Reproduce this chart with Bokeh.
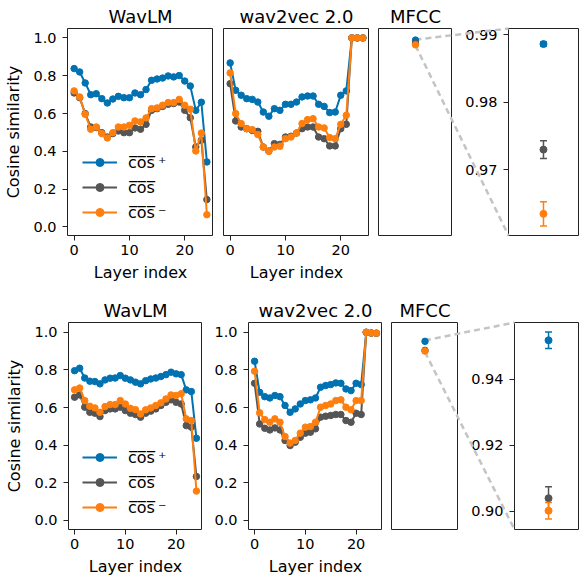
from bokeh.plotting import figure
from bokeh.models import FixedTicker, PrintfTickFormatter, Legend, LegendItem, Range1d
from bokeh.layouts import row, column
from bokeh.embed import file_html
from bokeh.resources import INLINE

# ---------------- data ----------------
layers = list(range(25))

top_wavlm_pos = [0.838, 0.820, 0.762, 0.700, 0.705, 0.679, 0.656, 0.677, 0.691, 0.684, 0.684, 0.709, 0.700,
                 0.727, 0.776, 0.783, 0.788, 0.799, 0.794, 0.801, 0.772, 0.746, 0.617, 0.660, 0.344]
top_wavlm_all = [0.709, 0.684, 0.600, 0.529, 0.526, 0.499, 0.476, 0.494, 0.508, 0.499, 0.499, 0.524, 0.517,
                 0.543, 0.617, 0.626, 0.638, 0.649, 0.653, 0.661, 0.617, 0.578, 0.423, 0.459, 0.145]
top_wavlm_neg = [0.720, 0.688, 0.596, 0.517, 0.529, 0.494, 0.471, 0.499, 0.529, 0.529, 0.538, 0.561, 0.556,
                 0.577, 0.626, 0.630, 0.644, 0.658, 0.658, 0.675, 0.644, 0.623, 0.402, 0.497, 0.065]

top_w2v_pos = [0.868, 0.723, 0.697, 0.679, 0.675, 0.661, 0.608, 0.586, 0.626, 0.617, 0.649, 0.649, 0.661,
               0.688, 0.693, 0.693, 0.649, 0.638, 0.605, 0.608, 0.697, 0.720, 1.000, 1.000, 1.000]
top_w2v_all = [0.758, 0.561, 0.529, 0.520, 0.511, 0.506, 0.423, 0.402, 0.441, 0.437, 0.476, 0.480, 0.497,
               0.520, 0.529, 0.529, 0.476, 0.467, 0.429, 0.429, 0.520, 0.543, 1.000, 1.000, 1.000]
top_w2v_neg = [0.815, 0.600, 0.547, 0.520, 0.515, 0.489, 0.423, 0.400, 0.423, 0.427, 0.467, 0.476, 0.497,
               0.547, 0.568, 0.573, 0.529, 0.524, 0.473, 0.467, 0.543, 0.591, 1.000, 1.000, 1.000]

bot_wavlm_pos = [0.796, 0.809, 0.757, 0.740, 0.738, 0.726, 0.747, 0.756, 0.757, 0.770, 0.756, 0.747, 0.735,
                 0.726, 0.743, 0.752, 0.757, 0.765, 0.775, 0.788, 0.779, 0.775, 0.694, 0.685, 0.437]
bot_wavlm_all = [0.655, 0.667, 0.602, 0.575, 0.570, 0.552, 0.584, 0.593, 0.593, 0.602, 0.584, 0.570, 0.563,
                 0.549, 0.570, 0.581, 0.593, 0.611, 0.628, 0.641, 0.628, 0.619, 0.504, 0.496, 0.234]
bot_wavlm_neg = [0.694, 0.704, 0.637, 0.607, 0.598, 0.575, 0.605, 0.616, 0.616, 0.637, 0.619, 0.596, 0.589,
                 0.566, 0.588, 0.598, 0.611, 0.625, 0.646, 0.667, 0.664, 0.673, 0.540, 0.531, 0.156]

bot_w2v_pos = [0.846, 0.681, 0.658, 0.651, 0.664, 0.658, 0.611, 0.575, 0.593, 0.619, 0.637, 0.641, 0.651,
               0.708, 0.717, 0.722, 0.731, 0.729, 0.699, 0.690, 0.729, 0.722, 1.000, 0.996, 0.995]
bot_w2v_all = [0.729, 0.513, 0.490, 0.481, 0.492, 0.481, 0.425, 0.398, 0.416, 0.442, 0.464, 0.469, 0.487,
               0.549, 0.554, 0.558, 0.563, 0.563, 0.531, 0.522, 0.570, 0.563, 1.000, 0.996, 0.995]
bot_w2v_neg = [0.793, 0.572, 0.536, 0.522, 0.540, 0.522, 0.446, 0.411, 0.425, 0.464, 0.496, 0.499, 0.522,
               0.602, 0.611, 0.619, 0.637, 0.641, 0.602, 0.588, 0.637, 0.637, 1.000, 0.996, 0.995]

# MFCC: mean and error for (cos+, cos, cos-)
top_mfcc_mean = [0.9886, 0.9730, 0.9635]
top_mfcc_err = [0.0003, 0.0013, 0.0018]
bot_mfcc_mean = [0.9519, 0.9039, 0.9001]
bot_mfcc_err = [0.0025, 0.0035, 0.0025]

legend_labels = ["c\u0305o\u0305s\u0305\u2009\u207a", "c\u0305o\u0305s\u0305", "c\u0305o\u0305s\u0305\u2009\u207b"]
y_ticks = [0.0, 0.2, 0.4, 0.6, 0.8, 1.0]
x_ticks = [0, 10, 20]
top_zoom_ticks = [0.97, 0.98, 0.99]
bot_zoom_ticks = [0.90, 0.92, 0.94]

# ---------------- style ----------------
FONT = "DejaVu Sans"
BLUE, GRAY, ORANGE = "#0072b2", "#555555", "#ff7f0e"
COLORS = [BLUE, GRAY, ORANGE]
LINK = "#c4c4c4"
EDGE = "#222222"


def base_fig(fw, fh, left, top, bottom, xr, yr, title=None):
    kw = dict(frame_width=fw, frame_height=fh, min_border_left=left, min_border_right=0,
              min_border_top=top, min_border_bottom=bottom, x_range=Range1d(*xr), y_range=Range1d(*yr),
              output_backend="svg", toolbar_location=None, tools="")
    if title:
        kw["title"] = title
    p = figure(**kw)
    p.xgrid.visible = False
    p.ygrid.visible = False
    p.outline_line_color = EDGE
    p.outline_line_width = 1
    p.background_fill_color = "white"
    p.border_fill_color = "white"
    p.title.text_font = FONT
    p.title.text_font_size = "18px"
    p.title.text_font_style = "normal"
    p.title.align = "center"
    p.title.standoff = 4
    p.title.text_color = "black"
    for ax in p.axis:
        ax.axis_line_color = None
        ax.major_tick_line_color = EDGE
        ax.major_tick_out = 5
        ax.major_tick_in = 0
        ax.minor_tick_line_color = None
        ax.major_label_text_font = FONT
        ax.major_label_text_font_size = "14.5px"
        ax.major_label_text_color = "black"
        ax.axis_label_text_font = FONT
        ax.axis_label_text_font_size = "16px"
        ax.axis_label_text_font_style = "normal"
        ax.axis_label_text_color = "black"
    p.xaxis.major_label_standoff = 4
    p.yaxis.major_label_standoff = 6
    return p


def line_panel(p, series, ylabel=False, yticks=True):
    rs = []
    for vals, c in zip(series, COLORS):
        l = p.line(layers, vals, line_color=c, line_width=2)
        s = p.scatter(layers, vals, size=6.5, fill_color=c, line_color=c)
        rs.append([l, s])
    p.xaxis.ticker = FixedTicker(ticks=x_ticks)
    p.xaxis.axis_label = "Layer index"
    p.xaxis.axis_label_standoff = 5
    if yticks:
        p.yaxis.ticker = FixedTicker(ticks=y_ticks)
        p.yaxis.formatter = PrintfTickFormatter(format="%.1f")
    else:
        p.yaxis.visible = False
    if ylabel:
        p.yaxis.axis_label = "Cosine similarity"
        p.yaxis.axis_label_standoff = 7
    return rs


def add_legend(p, rs, loc):
    leg = Legend(items=[LegendItem(label=legend_labels[i], renderers=rs[i]) for i in range(3)],
                 location=loc, border_line_color=None, background_fill_alpha=0,
                 label_text_font=FONT, label_text_font_size="16px", label_text_color="black",
                 glyph_width=35, glyph_height=20, label_height=20, label_standoff=11,
                 spacing=5, padding=0, margin=0)
    p.add_layout(leg)


def x2px(xr, fw, x):
    return (x - xr[0]) / (xr[1] - xr[0]) * fw


def px2x(xr, fw, px):
    return xr[0] + px / fw * (xr[1] - xr[0])


def y2px(yr, fh, y):
    return (yr[1] - y) / (yr[1] - yr[0]) * fh


def px2y(yr, fh, px):
    return yr[1] - px / fh * (yr[1] - yr[0])


def mfcc_pair(fh, top, bottom, c_left, c_w, d_left, d_w, y_main, d_xr, d_yr, means, errs, ticks):
    c_xr = (-1, 1)
    c = base_fig(c_w, fh, c_left, top, bottom, c_xr, y_main, "MFCC")
    c.xaxis.visible = False
    c.yaxis.visible = False
    d = base_fig(d_w, fh, d_left, top, bottom, d_xr, d_yr)
    d.xaxis.visible = False
    d.yaxis.ticker = FixedTicker(ticks=ticks)
    d.yaxis.formatter = PrintfTickFormatter(format="%.2f")

    # connectors: from zoom window limits at x=0 in main panel to inset frame corners
    offset = c_w + d_left  # inset frame left relative to MFCC frame left
    px0 = x2px(c_xr, c_w, 0)
    for lim, qy in ((d_yr[1], 0.0), (d_yr[0], float(fh))):
        py = y2px(y_main, fh, lim)
        c.segment(x0=[0], y0=[lim], x1=[px2x(c_xr, c_w, offset)], y1=[px2y(y_main, fh, qy)],
                  line_color=LINK, line_width=2.5, line_dash="6 4")
        xs, ys = px2x(d_xr, d_w, px0 - offset), px2y(d_yr, fh, py)
        xe, ye = px2x(d_xr, d_w, 0), px2y(d_yr, fh, qy)
        d.segment(x0=[xs], y0=[ys], x1=[xe], y1=[ye], line_color=LINK, line_width=2.5,
                  line_dash="6 4", level="overlay")

    c.scatter(x=[0, 0, 0], y=means, size=6.5, fill_color=COLORS, line_color=COLORS)
    for m, e, col in zip(means, errs, COLORS):
        d.segment(x0=[0], y0=[m - e], x1=[0], y1=[m + e], line_color=col, line_width=1.5)
        d.scatter(x=[0, 0], y=[m - e, m + e], marker="dash", size=7, line_color=col, line_width=1.5)
        d.scatter(x=[0], y=[m], size=7, fill_color=col, line_color=col)
    return c, d


# ---------------- top row ----------------
FH = 207
Y_TOP = (-0.045, 1.05)
XR = (-1.2, 25.2)
a1 = base_fig(146, FH, 67, 28, 59, XR, Y_TOP, "WavLM")
rs = line_panel(a1, [top_wavlm_pos, top_wavlm_all, top_wavlm_neg], ylabel=True)
add_legend(a1, rs, (15, 13))
b1 = base_fig(146, FH, 10, 28, 59, XR, Y_TOP, "wav2vec 2.0")
line_panel(b1, [top_w2v_pos, top_w2v_all, top_w2v_neg], yticks=False)
c1, d1 = mfcc_pair(FH, 28, 59, 9, 74, 56, 71, Y_TOP, (-1, 1.03), (0.9603, 0.9909),
                   top_mfcc_mean, top_mfcc_err, top_zoom_ticks)

# ---------------- bottom row ----------------
Y_BOT = (-0.048, 1.052)
a2 = base_fig(134, FH, 68, 28, 54, XR, Y_BOT, "WavLM")
rs2 = line_panel(a2, [bot_wavlm_pos, bot_wavlm_all, bot_wavlm_neg], ylabel=True)
add_legend(a2, rs2, (14, 12))
b2 = base_fig(134, FH, 46, 28, 54, XR, Y_BOT, "wav2vec 2.0")
line_panel(b2, [bot_w2v_pos, bot_w2v_all, bot_w2v_neg])
c2, d2 = mfcc_pair(FH, 28, 54, 9, 67, 56, 65, Y_BOT, (-1, 0.91), (0.8944, 0.9573),
                   bot_mfcc_mean, bot_mfcc_err, bot_zoom_ticks)

layout = column(row(a1, b1, c1, d1, spacing=0), row(a2, b2, c2, d2, spacing=0), spacing=0)

open("out.html", "w").write(file_html(layout, INLINE))
